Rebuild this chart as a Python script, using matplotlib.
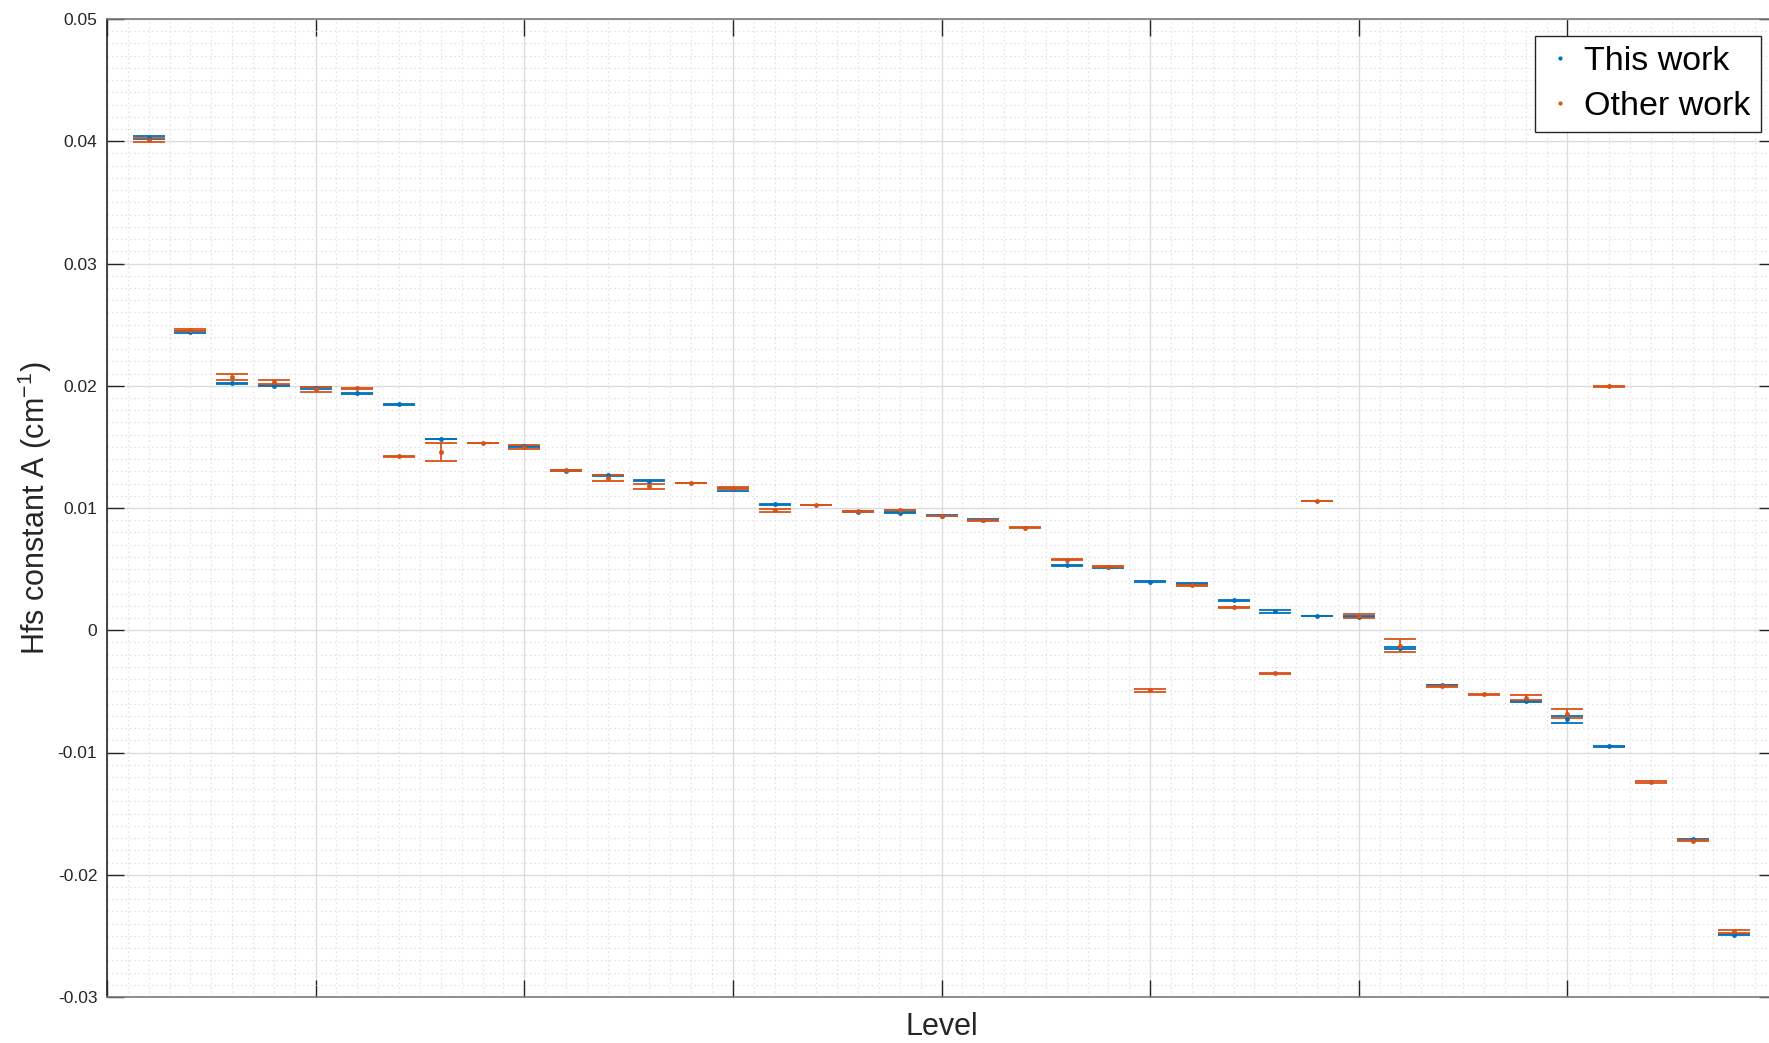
import numpy as np
import matplotlib
matplotlib.use("Agg")
import matplotlib.pyplot as plt
from matplotlib.ticker import MultipleLocator

nan = np.nan

# hyperfine A constants (cm^-1) per level, with uncertainties
levels = np.arange(1, 40)

this_work = [
    0.0403, 0.0244, 0.0202, 0.0200, 0.0198, 0.01937, 0.01847, 0.01564, nan, 0.01507,
    0.01305, 0.01266, 0.01223, nan, 0.01155, 0.01029, nan, 0.00970, 0.00960, 0.00937,
    0.00905, nan, 0.00530, 0.00515, 0.00397, 0.00380, 0.00244, 0.00154, 0.00116, 0.00110,
    -0.00145, -0.00448, nan, -0.00580, -0.00730, -0.00950, nan, -0.01710, -0.02490,
]
this_err = [
    0.0001, 0.00005, 0.00005, 0.00005, 0.0001, 0.00003, 0.00003, 0.00003, nan, 0.00004,
    0.00003, 0.00003, 0.00004, nan, 0.00012, 0.00003, nan, 0.00003, 0.00004, 0.00003,
    0.00003, nan, 0.00005, 0.00004, 0.00003, 0.00003, 0.00007, 0.0001, 0.00003, 0.00005,
    0.0001, 0.00003, nan, 0.00005, 0.00027, 0.00003, nan, 0.00003, 0.00003,
]

other_work = [
    0.0401, 0.02455, 0.0207, 0.0203, 0.0197, 0.01978, 0.01422, 0.01458, 0.01531, 0.01499,
    0.01308, 0.01245, 0.01177, 0.01204, 0.01163, 0.00980, 0.01024, 0.00972, 0.00983, 0.00935,
    0.00900, 0.00838, 0.00577, 0.00520, -0.00492, 0.00367, 0.00187, -0.00350, 0.01057, 0.00116,
    -0.00125, -0.00460, -0.00525, -0.00552, -0.00683, 0.01994, -0.01242, -0.01720, -0.02464,
]
other_err = [
    0.00015, 0.0001, 0.00023, 0.00019, 0.0002, 0.00006, 0.00005, 0.00076, 0.00003, 0.00014,
    0.00003, 0.00026, 0.00019, 0.00003, 0.00008, 0.0001, 0.00003, 0.00003, 0.00003, 0.00003,
    0.00003, 0.00003, 0.00005, 0.00005, 0.0001, 0.00003, 0.00005, 0.00004, 0.00003, 0.00014,
    0.00055, 0.00003, 0.00003, 0.00019, 0.00035, 0.00004, 0.00005, 0.00005, 0.00014,
]

y_ticks = [-0.03, -0.02, -0.01, 0, 0.01, 0.02, 0.03, 0.04, 0.05]
y_tick_labels = ["-0.03", "-0.02", "-0.01", "0", "0.01", "0.02", "0.03", "0.04", "0.05"]

BLUE = "#0072BD"
ORANGE = "#D95319"
AXIS_COLOR = "#262626"

plt.rcParams["font.family"] = ["Liberation Sans", "DejaVu Sans"]
plt.rcParams["mathtext.fontset"] = "custom"
plt.rcParams["mathtext.rm"] = "Liberation Sans"
plt.rcParams["mathtext.it"] = "Liberation Sans"
plt.rcParams["axes.unicode_minus"] = False

fig = plt.figure(figsize=(17.69, 10.43), dpi=100)
# axes run slightly past the right border of the figure
ax = fig.add_axes([107 / 1769, 46 / 1043, 1669 / 1769, 978 / 1043])

bar_style = dict(fmt=".", markersize=5, elinewidth=1.3, capsize=11.5, capthick=1.3, linestyle="none")
eb_this = ax.errorbar(levels, this_work, yerr=this_err, color=BLUE, **bar_style)
eb_other = ax.errorbar(levels, other_work, yerr=other_err, color=ORANGE, **bar_style)

ax.set_xlim(0, 40)
ax.set_ylim(-0.03, 0.05)

ax.xaxis.set_major_locator(MultipleLocator(5))
ax.xaxis.set_minor_locator(MultipleLocator(0.5))
ax.set_yticks(y_ticks)
ax.set_yticklabels(y_tick_labels)
ax.yaxis.set_minor_locator(MultipleLocator(0.001))
ax.set_xticklabels([])

ax.tick_params(which="major", direction="in", length=12, width=1, color=AXIS_COLOR,
               top=True, right=True, labelsize=12.5, labelcolor=AXIS_COLOR, pad=7)
ax.tick_params(which="minor", length=0, top=True, right=True)

ax.grid(which="major", color="#dcdcdc", linewidth=1, linestyle="-")
ax.grid(which="minor", color="#e2e2e2", linewidth=0.8, linestyle=(0, (1.5, 2.5)))
ax.set_axisbelow(True)

for side, spine in ax.spines.items():
    spine.set_linewidth(1.2)
    spine.set_color(AXIS_COLOR if side in ("left", "right") else "#7a7a7a")

ax.set_xlabel("Level", fontsize=22, color=AXIS_COLOR, va="center")
ax.xaxis.set_label_coords(0.5, -0.031)
ax.set_ylabel(r"Hfs constant A (cm$^{\mathregular{-1}}$)", fontsize=22, color=AXIS_COLOR, va="center")
ax.yaxis.set_label_coords(-0.043, 0.5)

leg = ax.legend([eb_this[0], eb_other[0]], ["This work", "Other work"],
                loc="upper right", bbox_to_anchor=(1761 / 1769, 1 - 36 / 1043),
                bbox_transform=fig.transFigure, borderaxespad=0, fontsize=24.5,
                handlelength=0.85, handletextpad=0.3, borderpad=0.3, labelspacing=0.4,
                fancybox=False, framealpha=1, markerscale=0.8)
leg.get_frame().set_edgecolor(AXIS_COLOR)
leg.get_frame().set_linewidth(1)

fig.savefig("out.png", dpi=100)
